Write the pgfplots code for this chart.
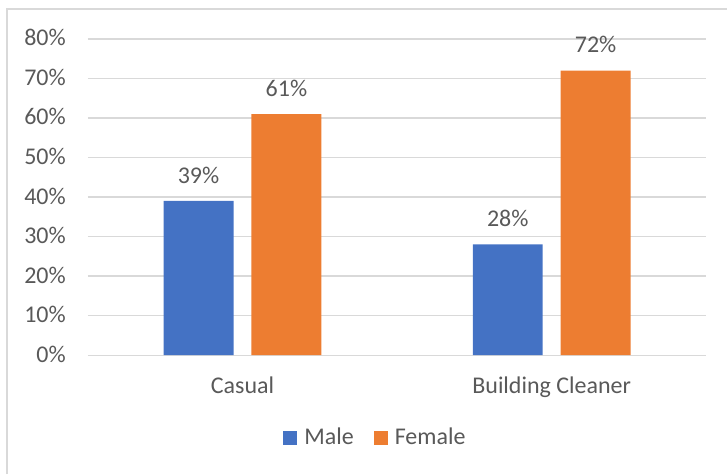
\documentclass[border=0pt]{standalone}
\usepackage{pgfplots}
\pgfplotsset{compat=1.18}
\usepackage{fontspec}
\setmainfont{Carlito}
\definecolor{cblue}{HTML}{4472C4}
\definecolor{corange}{HTML}{ED7D31}
\definecolor{tgray}{HTML}{595959}
\definecolor{ggray}{HTML}{D9D9D9}
\newcommand{\cfont}{\fontsize{24}{29}\selectfont}
\begin{document}
\cfont
\begin{tikzpicture}
\begin{axis}[
  scale only axis,
  width=619pt, height=316.5pt,
  ymin=0, ymax=80,
  xmin=-0.5, xmax=1.5,
  ybar=18pt, bar width=70pt,
  xtick={0,1}, xticklabels={Casual,Building Cleaner},
  ytick={0,10,...,80},
  yticklabel={\pgfmathprintnumber{\tick}\%},
  /pgf/number format/assume math mode=true,
  ymajorgrids, grid style={ggray, line width=1.2pt},
  axis x line*=bottom, axis y line*=left,
  x axis line style={ggray, line width=1.2pt, -},
  y axis line style={draw=none},
  major tick length=0pt,
  tick style={draw=none},
  ticklabel style={text=tgray, font=\cfont},
  yticklabel style={anchor=base east, inner sep=0pt, xshift=-22pt, yshift=-7pt},
  xticklabel style={anchor=base, inner sep=0pt, yshift=-38pt},
  nodes near coords={\pgfmathprintnumber{\pgfplotspointmeta}\%},
  nodes near coords style={text=tgray, anchor=base, inner sep=0pt, yshift=18pt, font=\cfont, /pgf/number format/assume math mode=true},
  legend style={at={(axis description cs:0.465,-0.262)}, anchor=center, draw=none, legend columns=2, font=\cfont, text=tgray, /tikz/every even column/.append style={column sep=18pt}, /tikz/every odd column/.append style={column sep=5pt}},
  legend image code/.code={\fill[#1] (0pt,-7pt) rectangle (14pt,7pt);},
  clip=false,
]
\addplot[fill=cblue, draw=none] coordinates {(0,39) (1,28)};
\addplot[fill=corange, draw=none] coordinates {(0,61) (1,72)};
\legend{Male,Female}
\end{axis}
\draw[ggray, line width=1.5pt] ([xshift=-81pt]current axis.south west) ++(0,-119pt) -- ([xshift=-81pt,yshift=30pt]current axis.north west) -- ([xshift=21pt,yshift=30pt]current axis.north east);
\path ([xshift=-88pt,yshift=-119pt]current axis.south west) rectangle ([xshift=21pt,yshift=39pt]current axis.north east);
\end{tikzpicture}
\end{document}
